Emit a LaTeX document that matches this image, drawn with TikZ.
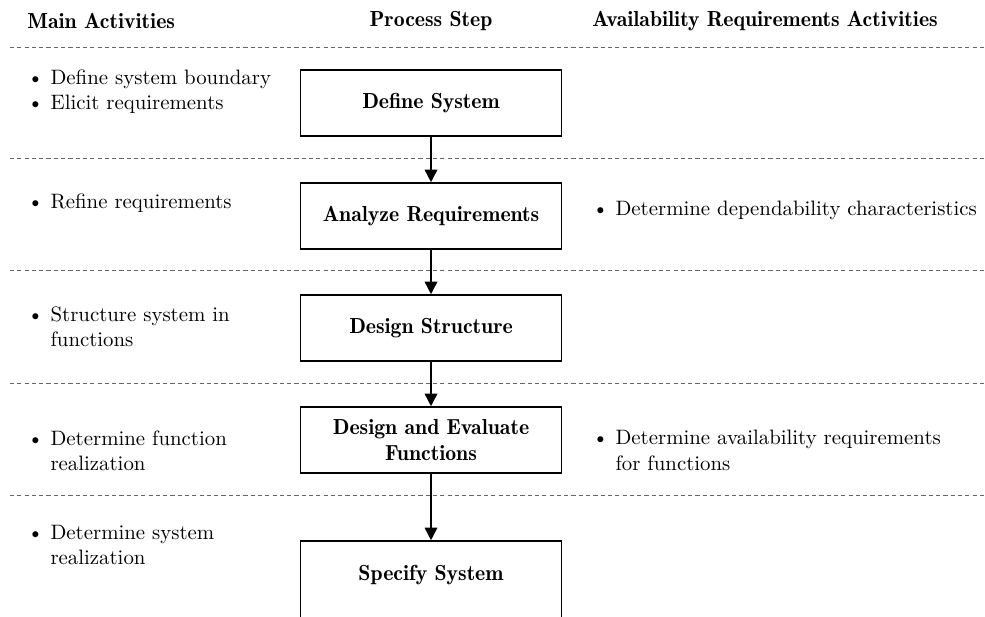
\documentclass[tikz,border=0pt]{standalone}
\usetikzlibrary{arrows.meta}
\newcommand{\demibold}{\fontsize{10.45pt}{12.5pt}\fontseries{b}\selectfont}
\newcommand{\bodytext}{\fontsize{10pt}{12.1pt}\selectfont}
\begin{document}
\begin{tikzpicture}[x=0.48pt,y=-0.48pt,
  stepbox/.style={draw,line width=0.75pt,minimum width=261*0.48pt,minimum height=66*0.48pt,font=\demibold,align=center,inner sep=0pt},
  sep/.style={draw=black!60,line width=0.4pt,dash pattern=on 2pt off 1.5pt},
  hdr/.style={font=\demibold,inner sep=0pt},
  act/.style={align=left,inner sep=0pt,anchor=north west,font=\bodytext},
  flow/.style={line width=0.75pt,-{Triangle[length=6pt,width=6pt]}}]
\useasboundingbox (0,0) rectangle (985,617);
\clip (0,0) rectangle (985,617);
% headers
\node[hdr,anchor=west] (h1) at (27,21) {Main Activities};
\node[hdr] (h2) at (431,21) {Process Step};
\node[hdr,anchor=west] (h3) at (592,21) {Availability Requirements Activities};
% separators
\coordinate (s0l) at (10,47);  \coordinate (s0r) at (985,47);
\coordinate (s1l) at (10,158); \coordinate (s1r) at (985,158);
\coordinate (s2l) at (10,270); \coordinate (s2r) at (985,270);
\coordinate (s3l) at (10,383); \coordinate (s3r) at (985,383);
\coordinate (s4l) at (10,495); \coordinate (s4r) at (985,495);
\foreach \i in {0,...,4} \draw[sep] (s\i l) -- (s\i r);
% boxes
\node[stepbox] (b1) at (431,103) {Define System};
\node[stepbox] (b2) at (431,216) {Analyze Requirements};
\node[stepbox] (b3) at (431,328) {Design Structure};
\node[stepbox] (b4) at (431,440) {Design and Evaluate\\Functions};
\node[stepbox,minimum height=90*0.48pt] (b5) at (431,586) {};
\node[font=\demibold,inner sep=0pt] (b5t) at (431,575) {Specify System};
\draw[flow] (b1) -- (b2);
\draw[flow] (b2) -- (b3);
\draw[flow] (b3) -- (b4);
\draw[flow] (b4) -- (b5);
% left activities
\node[act] (l1) at (27,69) {\textbullet\ Define system boundary\\\textbullet\ Elicit requirements};
\node[act] (l2) at (27,193) {\textbullet\ Refine requirements};
\node[act] (l3) at (27,306) {\textbullet\ Structure system in\\\phantom{\textbullet\ }functions};
\node[act] (l4) at (27,430) {\textbullet\ Determine function\\\phantom{\textbullet\ }realization};
\node[act] (l5) at (27,525) {\textbullet\ Determine system\\\phantom{\textbullet\ }realization};
% right activities
\node[act] (r2) at (592,201) {\textbullet\ Determine dependability characteristics};
\node[act] (r4) at (592,430) {\textbullet\ Determine availability requirements\\\phantom{\textbullet\ }for functions};
\end{tikzpicture}
\end{document}
